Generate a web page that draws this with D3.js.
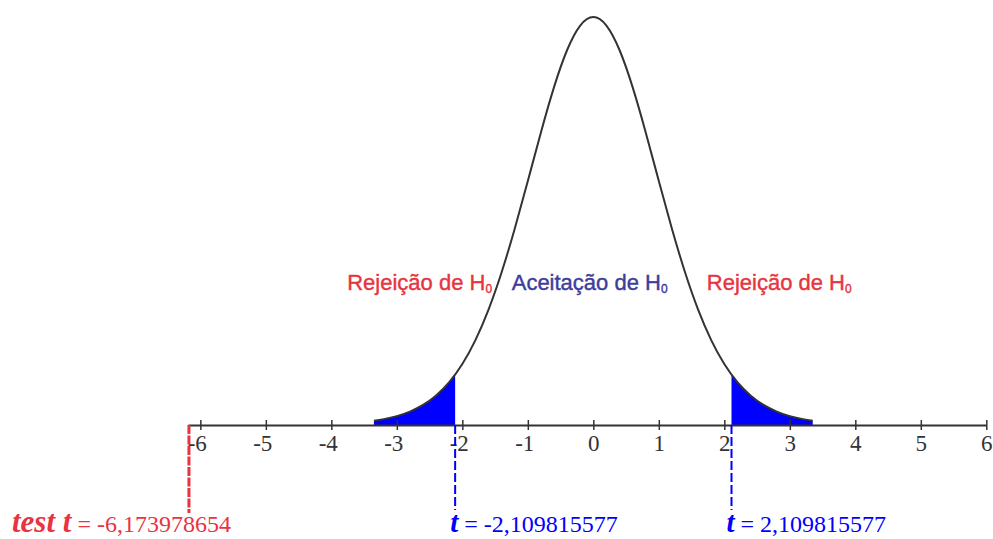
<!DOCTYPE html>
<html>
<head>
<meta charset="utf-8">
<script src="https://cdn.jsdelivr.net/npm/d3@7/dist/d3.min.js"></script>
<style>
  html, body { margin: 0; padding: 0; background: #ffffff; }
  svg { display: block; }
</style>
</head>
<body>
<svg id="chart" width="993" height="539"></svg>
<script>
// Student t density (df = 17), relative height, sampled along t
const tValues = [-3.35, -3.2, -3.0, -2.8, -2.6, -2.4, -2.2, -2.0, -1.8, -1.6, -1.4, -1.2, -1.0, -0.8, -0.6, -0.4, -0.2,
                 0,
                 0.2, 0.4, 0.6, 0.8, 1.0, 1.2, 1.4, 1.6, 1.8, 2.0, 2.2, 2.4, 2.6, 2.8, 3.0, 3.2, 3.35];
const density = [0.0104, 0.0144, 0.0218, 0.0329, 0.0491, 0.0724, 0.1049, 0.1493, 0.2081, 0.2830, 0.3745, 0.4811, 0.5979, 0.7171, 0.8281, 0.9191, 0.9791,
                 1.0,
                 0.9791, 0.9191, 0.8281, 0.7171, 0.5979, 0.4811, 0.3745, 0.2830, 0.2081, 0.1493, 0.1049, 0.0724, 0.0491, 0.0329, 0.0218, 0.0144, 0.0104];

// axis ticks and their labels
const tickValues = [-6, -5, -4, -3, -2, -1, 0, 1, 2, 3, 4, 5, 6];
const tickLabels = ["-6", "-5", "-4", "-3", "-2", "-1", "0", "1", "2", "3", "4", "5", "6"];

// critical values and the test statistic
const criticalValues = [-2.109815577, 2.109815577];
const testStatistic = -6.173978654;

// region captions
const regionLabels = ["Rejeição de H", "Aceitação de H", "Rejeição de H"];

const RED = "#e8343e";
const BLUE = "#0000ff";
const NAVY = "#3d3d9c";
const INK = "#333333";
const SERIF = "'Liberation Serif', 'Times New Roman', serif";

const svg = d3.select("#chart");

const x = d3.scaleLinear().domain([-6.19, 6]).range([187.9, 986.3]);
const y = d3.scaleLinear().domain([0, 1]).range([425, 17]);
const axisY = y(0);

const pts = tValues.map((t, i) => ({ t, f: density[i] }));
const tMin = d3.min(tValues), tMax = d3.max(tValues);

// clip regions for the two rejection tails
const defs = svg.append("defs");
defs.append("clipPath").attr("id", "tailLeft")
  .append("rect")
  .attr("x", x(tMin) - 2).attr("y", 0)
  .attr("width", x(criticalValues[0]) - x(tMin) + 2).attr("height", axisY);
defs.append("clipPath").attr("id", "tailRight")
  .append("rect")
  .attr("x", x(criticalValues[1])).attr("y", 0)
  .attr("width", x(tMax) - x(criticalValues[1]) + 2).attr("height", axisY);

const area = d3.area()
  .x(d => x(d.t))
  .y0(axisY)
  .y1(d => y(d.f))
  .curve(d3.curveNatural);

svg.append("path").datum(pts)
  .attr("d", area)
  .attr("fill", BLUE)
  .attr("clip-path", "url(#tailLeft)");
svg.append("path").datum(pts)
  .attr("d", area)
  .attr("fill", BLUE)
  .attr("clip-path", "url(#tailRight)");

// density curve
const line = d3.line()
  .x(d => x(d.t))
  .y(d => y(d.f))
  .curve(d3.curveNatural);

svg.append("path").datum(pts)
  .attr("d", line)
  .attr("fill", "none")
  .attr("stroke", INK)
  .attr("stroke-width", 2);

// horizontal t axis
const axis = d3.axisBottom(x)
  .tickValues(tickValues)
  .tickFormat((d, i) => tickLabels[i])
  .tickSizeOuter(0)
  .tickSizeInner(4)
  .tickPadding(0);

const gAxis = svg.append("g")
  .attr("transform", `translate(0,${axisY})`)
  .call(axis);

gAxis.select(".domain")
  .attr("stroke", INK)
  .attr("stroke-width", 2.2);
gAxis.selectAll(".tick line")
  .attr("stroke", INK)
  .attr("stroke-width", 1.5)
  .attr("y1", -5)
  .attr("y2", 5);
gAxis.selectAll(".tick text")
  .attr("fill", INK)
  .attr("font-family", SERIF)
  .attr("font-size", 23)
  .attr("dy", null)
  .attr("y", 26)
  .attr("text-anchor", d => d < 0 ? "end" : "middle")
  .attr("x", d => d < 0 ? 6 : 0);

// values written with a decimal comma and a plain hyphen for the sign
const fmt = v => d3.format(".9f")(v).replace(".", ",").replace("\u2212", "-");

// critical value markers
criticalValues.forEach(c => {
  svg.append("line")
    .attr("x1", x(c)).attr("x2", x(c))
    .attr("y1", axisY).attr("y2", 510)
    .attr("stroke", BLUE)
    .attr("stroke-width", 2)
    .attr("stroke-dasharray", "9,3");

  const lbl = svg.append("text")
    .attr("x", x(c) - 5)
    .attr("y", 532)
    .attr("fill", BLUE)
    .attr("font-family", SERIF)
    .attr("font-size", 24);
  lbl.append("tspan")
    .attr("font-style", "italic")
    .attr("font-weight", "bold")
    .attr("font-size", 29)
    .text("t");
  lbl.append("tspan").text(" = " + fmt(c));
});

// test statistic marker
svg.append("line")
  .attr("x1", x(testStatistic)).attr("x2", x(testStatistic))
  .attr("y1", axisY).attr("y2", 513)
  .attr("stroke", RED)
  .attr("stroke-width", 3)
  .attr("stroke-dasharray", "9,1.5");

const testLbl = svg.append("text")
  .attr("x", 12)
  .attr("y", 532)
  .attr("fill", RED)
  .attr("font-family", SERIF)
  .attr("font-size", 24);
testLbl.append("tspan")
  .attr("font-style", "italic")
  .attr("font-weight", "bold")
  .attr("font-size", 31)
  .text("test t");
testLbl.append("tspan").text(" = " + fmt(testStatistic));

// region captions with subscript 0
function caption(txt, xPos, anchor, color) {
  const t = svg.append("text")
    .attr("x", xPos)
    .attr("y", 290)
    .attr("text-anchor", anchor)
    .attr("fill", color)
    .attr("font-family", "'Liberation Sans', Arial, sans-serif")
    .attr("font-size", 22)
    .attr("stroke", color)
    .attr("stroke-width", 0.4);
  t.append("tspan").text(txt);
  t.append("tspan")
    .attr("font-size", 12)
    .attr("dy", 3)
    .text("0");
}
caption(regionLabels[0], x(-1.546), "end", RED);
caption(regionLabels[1], x(-1.246), "start", NAVY);
caption(regionLabels[2], x(1.733), "start", RED);
</script>
</body>
</html>
